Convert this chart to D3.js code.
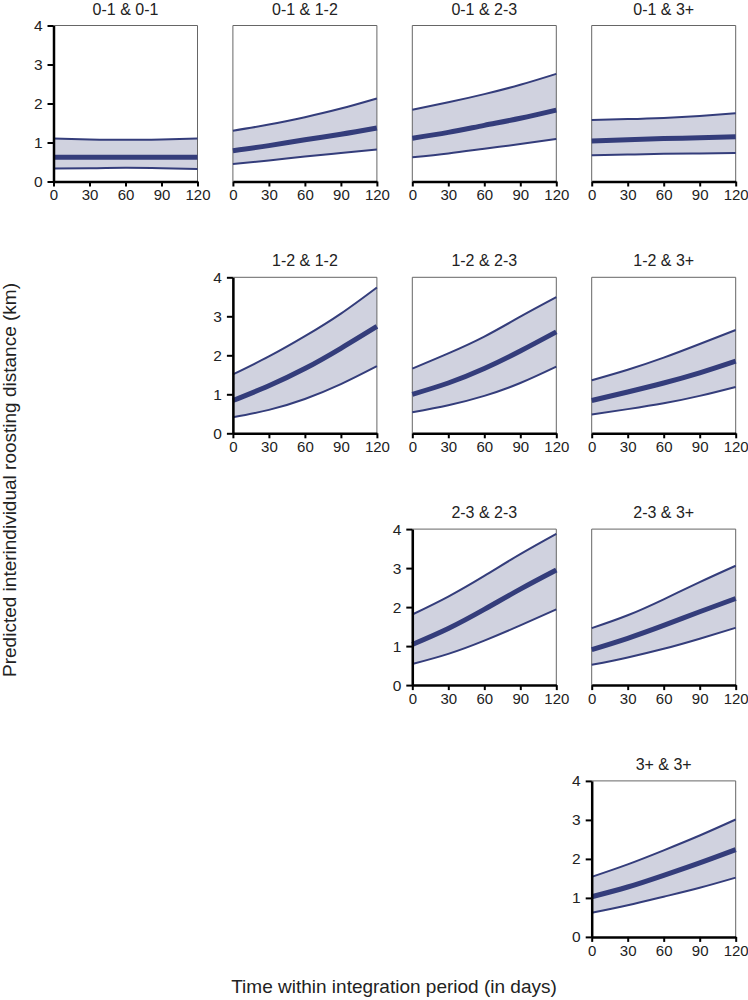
<!DOCTYPE html>
<html><head><meta charset="utf-8">
<script src="https://cdn.jsdelivr.net/npm/d3@7"></script>
<style>body{margin:0;background:#fff}svg{display:block;font-family:"Liberation Sans",Arial,sans-serif}</style>
</head><body><svg id="c" width="748" height="1000"></svg>
<script>
const ageClasses = ["0-1", "1-2", "2-3", "3+"];
const days = [0, 30, 60, 90, 120];
const yTicks = [0, 1, 2, 3, 4];
const xTicks = [0, 30, 60, 90, 120];
// panels: [row class, column class]
const panelPairs = [[0,0],[0,1],[0,2],[0,3],[1,1],[1,2],[1,3],[2,2],[2,3],[3,3]];
const meanVals = [
  [0.62, 0.62, 0.62, 0.62, 0.62],
  [0.79, 0.92, 1.07, 1.21, 1.37],
  [1.11, 1.26, 1.44, 1.62, 1.83],
  [1.04, 1.07, 1.10, 1.12, 1.15],
  [0.84, 1.22, 1.66, 2.18, 2.74],
  [1.00, 1.29, 1.66, 2.11, 2.60],
  [0.84, 1.06, 1.29, 1.55, 1.85],
  [1.04, 1.45, 1.94, 2.46, 2.95],
  [0.91, 1.20, 1.53, 1.88, 2.22],
  [1.03, 1.28, 1.58, 1.90, 2.24]
];
const lowerVals = [
  [0.33, 0.34, 0.35, 0.34, 0.32],
  [0.45, 0.54, 0.64, 0.73, 0.82],
  [0.62, 0.72, 0.84, 0.96, 1.09],
  [0.67, 0.69, 0.71, 0.72, 0.73],
  [0.41, 0.60, 0.88, 1.26, 1.72],
  [0.54, 0.72, 0.96, 1.29, 1.71],
  [0.48, 0.62, 0.77, 0.96, 1.19],
  [0.54, 0.80, 1.14, 1.53, 1.94],
  [0.52, 0.71, 0.93, 1.19, 1.47],
  [0.62, 0.81, 1.03, 1.26, 1.52]
];
const upperVals = [
  [1.10, 1.08, 1.07, 1.08, 1.10],
  [1.30, 1.46, 1.65, 1.87, 2.13],
  [1.84, 2.03, 2.24, 2.48, 2.76],
  [1.58, 1.60, 1.63, 1.68, 1.75],
  [1.51, 1.97, 2.49, 3.07, 3.74],
  [1.66, 2.05, 2.48, 2.99, 3.49],
  [1.36, 1.63, 1.94, 2.29, 2.65],
  [1.81, 2.27, 2.80, 3.36, 3.88],
  [1.46, 1.79, 2.20, 2.64, 3.06],
  [1.54, 1.86, 2.22, 2.60, 3.01]
];
const yLabel = "Predicted interindividual roosting distance (km)";
const xLabel = "Time within integration period (in days)";

const svg = d3.select("#c");
const W = 144, H = 156;
const colLeft = c => 53.5 + c * 179.4;
const rowTop = r => 25.5 + r * 251.8;
const fillCol = "#d0d2df", lineCol = "#343d7b";
const font = "Liberation Sans, Arial, sans-serif";

const x = d3.scaleLinear().domain([0, 120]).range([0, W]);
const y = d3.scaleLinear().domain([0, 4]).range([H, 0]);
const curve = d3.curveNatural;

panelPairs.forEach(([r, c], i) => {
  const g = svg.append("g").attr("transform", `translate(${colLeft(c)},${rowTop(r)})`);
  const pts = days.map((d, k) => ({d, m: meanVals[i][k], lo: lowerVals[i][k], hi: upperVals[i][k]}));
  g.append("path").datum(pts).attr("fill", fillCol)
    .attr("d", d3.area().x(p => x(p.d)).y0(p => y(p.lo)).y1(p => y(p.hi)).curve(curve));
  g.append("path").attr("fill", "none").attr("stroke", "#666").attr("stroke-width", 1)
    .attr("d", `M0,${H}V0H${W}V${H}`);
  ["lo", "hi"].forEach(k => {
    g.append("path").datum(pts).attr("fill", "none").attr("stroke", lineCol).attr("stroke-width", 2)
      .attr("d", d3.line().x(p => x(p.d)).y(p => y(p[k])).curve(curve));
  });
  g.append("path").datum(pts).attr("fill", "none").attr("stroke", lineCol).attr("stroke-width", 5)
    .attr("d", d3.line().x(p => x(p.d)).y(p => y(p.m)).curve(curve));
  const xa = g.append("g").attr("transform", `translate(0,${H})`)
    .call(d3.axisBottom(x).tickValues(xTicks).tickFormat(d3.format("d")).tickSize(5).tickSizeOuter(0).tickPadding(3));
  xa.attr("font-size", 15).attr("font-family", font);
  xa.select(".domain").attr("stroke", "#000").attr("stroke-width", 2.5);
  xa.selectAll(".tick line").attr("stroke", "#000").attr("stroke-width", 2);
  xa.selectAll("text").attr("fill", "#222");
  if (r === c) {
    const ya = g.append("g")
      .call(d3.axisLeft(y).tickValues(yTicks).tickFormat(d3.format("d")).tickSize(6).tickSizeOuter(0).tickPadding(5));
    ya.attr("font-size", 15.5).attr("font-family", font);
    ya.select(".domain").attr("stroke", "#000").attr("stroke-width", 2.5);
    ya.selectAll(".tick line").attr("stroke", "#000").attr("stroke-width", 2);
    ya.selectAll("text").attr("fill", "#222");
  }
  g.append("text").attr("x", W / 2).attr("y", -11).attr("text-anchor", "middle")
    .attr("font-size", 16).attr("fill", "#222").text(`${ageClasses[r]} & ${ageClasses[c]}`);
});

svg.append("text").attr("transform", "translate(16,480) rotate(-90)").attr("text-anchor", "middle")
  .attr("font-size", 19).attr("fill", "#222").text(yLabel);
svg.append("text").attr("x", 394).attr("y", 993).attr("text-anchor", "middle")
  .attr("font-size", 19).attr("fill", "#222").text(xLabel);
</script></body></html>
